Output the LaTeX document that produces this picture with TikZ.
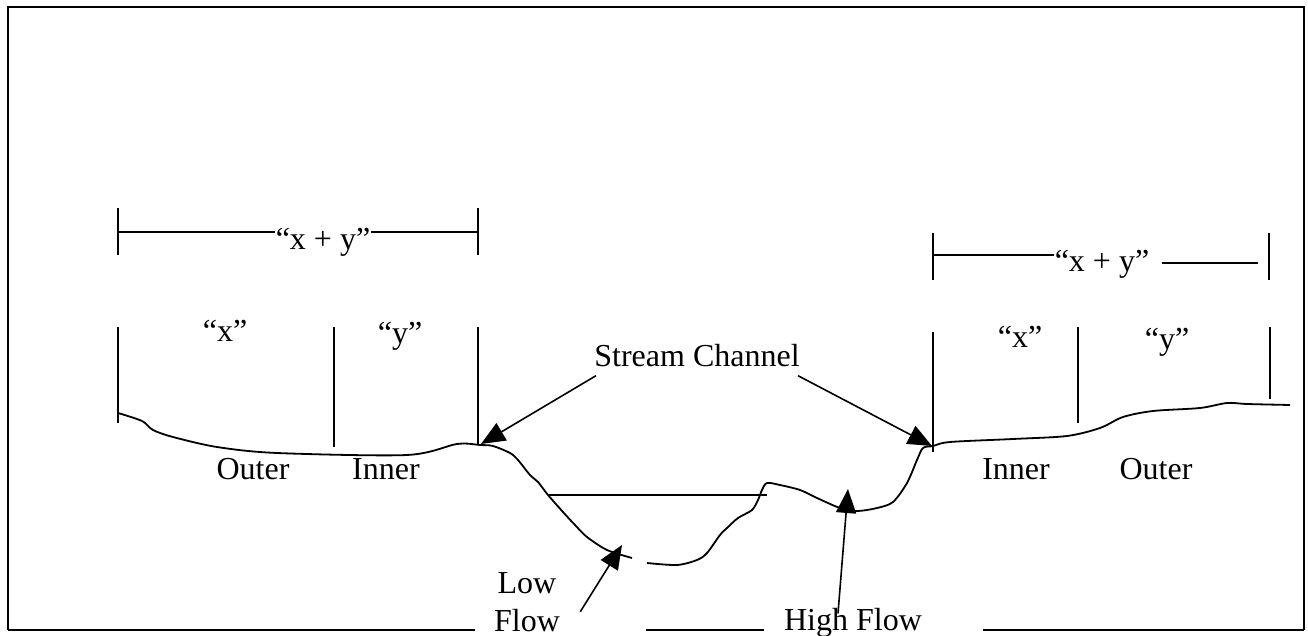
\documentclass[tikz,border=0pt]{standalone}
\usepackage{fontspec}
\setmainfont{Liberation Serif}
\usetikzlibrary{arrows.meta}

\tikzset{
  line/.style={line width=0.8pt},
  ground/.style={line width=0.9pt, line join=round},
  pointer/.style={line width=0.8pt, -{Triangle[length=12pt,width=10pt]}},
  lbl/.style={inner sep=0pt, font=\fontsize{16}{19}\selectfont},
}

\begin{document}
\begin{tikzpicture}[x=0.5pt, y=-0.5pt]
  \useasboundingbox (0,0) rectangle (1308,636);

  % Drawing frame
  \draw [line width=1.4pt] (8,630) -- (8,7) -- (1304,7) -- (1304,630);%
  \draw [line width=1.4pt] (8,630) -- (475,630);%
  \draw [line width=1.4pt] (646,630) -- (764,630);%
  \draw [line width=1.4pt] (983,630) -- (1304,630);%

  % Left side widths
  \node [lbl, anchor=base] (lxy) at (323,250) {``x + y''};%
  \draw [line] (118,208) -- (118,255);%
  \draw [line] (478,208) -- (478,255);%
  \draw [line] (118,232) -- (lxy.west |- 0,232);%
  \draw [line] (lxy.east |- 0,232) -- (478,232);%
  \node [lbl, anchor=base] (lx) at (225,342) {``x''};%
  \node [lbl, anchor=base] (ly) at (400,344) {``y''};%
  \draw [line] (118,327) -- (118,423);%
  \draw [line] (334,327) -- (334,447);%
  \draw [line] (478,327) -- (478,445);%

  % Right side widths
  \node [lbl, anchor=base] (rxy) at (1102,272) {``x + y''};%
  \draw [line] (933,233) -- (933,280);%
  \draw [line] (1269,233) -- (1269,280);%
  \draw [line] (933,255) -- (rxy.west |- 0,255);%
  \draw [line] (1162,263) -- (1258,263);%
  \node [lbl, anchor=base] (rx) at (1020,348) {``x''};%
  \node [lbl, anchor=base] (ry) at (1167,350) {``y''};%
  \draw [line] (933,332) -- (933,452);%
  \draw [line] (1078,327) -- (1078,423);%
  \draw [line] (1270,327) -- (1270,399);%

  % Drawing ground, left bank and low flow wall
  \draw [ground] plot [smooth, tension=0.5] coordinates {
    (118,413) (142,421) (153,430) (173,437) (217,447) (277,453) (407,455)
    (457,444) (480,445) (493,446) (510,453) (518,460) (530,475) (538,482)
    (548,495) (563,512) (575,525) (587,537) (607,550) (632,558)};%

  % Drawing ground, channel bed and right bank
  \draw [ground] plot [smooth, tension=0.5] coordinates {
    (647,563) (677,565) (697,560) (707,553) (720,535) (727,528) (738,518)
    (752,510) (758,500) (762,490) (767,483) (780,485) (800,490) (817,498)
    (840,508) (857,511) (877,508) (893,502) (907,483) (917,460) (923,448)
    (933,446) (950,442) (1013,439) (1067,436) (1100,428) (1123,417)
    (1153,411) (1200,408) (1227,403) (1247,404) (1290,405)};%

  % Drawing water surface
  \draw [line] (548,495) -- (767,495);%

  % Marking points hit by arrows
  \coordinate (lbank) at (481,444);%
  \coordinate (rbank) at (932,446);%
  \coordinate (lowbed) at (622,545);%
  \coordinate (highbed) at (848,489);%

  % Labels
  \node [lbl, anchor=base] (stream) at (697,367) {Stream Channel};%
  \node [lbl, anchor=base] (linner) at (386,480) {Inner};%
  \node [lbl, anchor=base] (louter) at (253,480) {Outer};%
  \node [lbl, anchor=base] (rinner) at (1016,480) {Inner};%
  \node [lbl, anchor=base] (router) at (1156,480) {Outer};%
  \node [lbl, anchor=base, align=center] (lowflow) at (527,631) {Low\\Flow};%
  \node [lbl, anchor=base] (highflow) at (853,630) {High Flow};%

  % Drawing arrows
  \draw [pointer] ([shift={(2,8)}]stream.south west) -- (lbank);%
  \draw [pointer] ([shift={(-2,8)}]stream.south east) -- (rbank);%
  \draw [pointer] ([shift={(20,10)}]lowflow.east) -- (lowbed);%
  \draw [pointer] ([shift={(-15,6)}]highflow.north) -- (highbed);%
\end{tikzpicture}
\end{document}
